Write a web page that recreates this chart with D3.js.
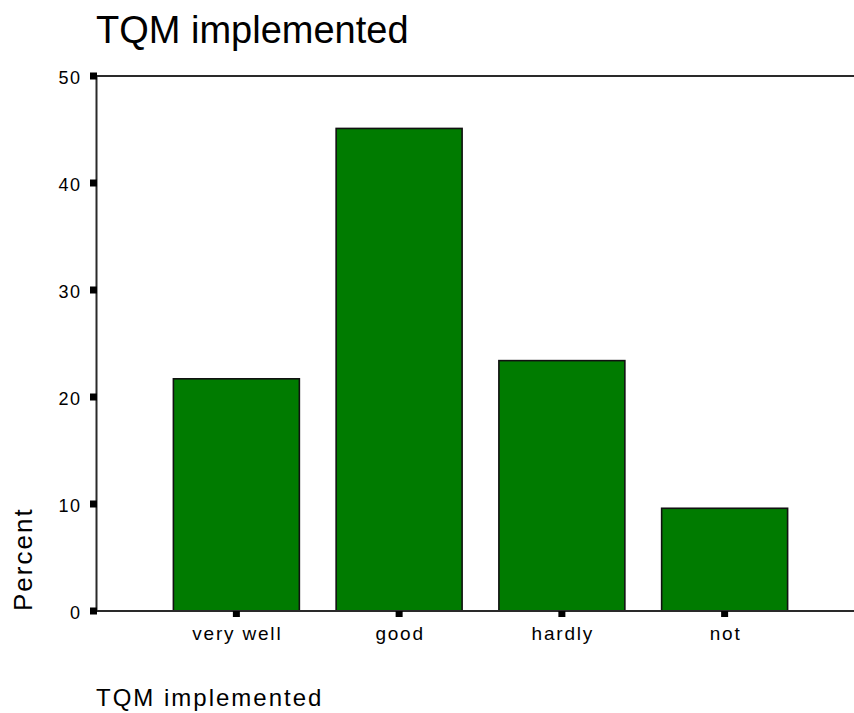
<!DOCTYPE html>
<html>
<head>
<meta charset="utf-8">
<script src="https://cdn.jsdelivr.net/npm/d3@7"></script>
<style>
  html, body { margin: 0; padding: 0; background: #fff; }
  svg { display: block; }
  text { font-family: "Liberation Sans", Arial, sans-serif; fill: #000; }
</style>
</head>
<body>
<script>
const categories = ["very well", "good", "hardly", "not"];
const percentValues = [21.7, 45.1, 23.4, 9.6];
const yTickValues = [0, 10, 20, 30, 40, 50];
const chartTitle = "TQM implemented";
const xAxisTitle = "TQM implemented";
const yAxisTitle = "Percent";

const W = 854, H = 713;
const svg = d3.select("body").append("svg").attr("width", W).attr("height", H);

const axisX = 96.5, plotRight = 854;
const x = d3.scaleBand().domain(categories).range([155, 806]).paddingInner(0.226).paddingOuter(0.113);
const y = d3.scaleLinear().domain([0, 50]).range([611, 76]);

// title
svg.append("text").attr("x", 96).attr("y", 43)
  .style("font-size", "38px").text(chartTitle);

// bars
svg.append("g").selectAll("rect").data(categories).join("rect")
  .attr("x", d => x(d))
  .attr("y", (d, i) => y(percentValues[i]))
  .attr("width", x.bandwidth())
  .attr("height", (d, i) => y(0) - y(percentValues[i]))
  .attr("fill", "#007b00")
  .attr("stroke", "#111")
  .attr("stroke-width", 1.6);

// frame lines
const lineColor = "#2a2a2a";
svg.append("line").attr("x1", axisX).attr("x2", plotRight).attr("y1", y(50)).attr("y2", y(50))
  .attr("stroke", lineColor).attr("stroke-width", 2);
svg.append("line").attr("x1", axisX).attr("x2", plotRight).attr("y1", y(0)).attr("y2", y(0))
  .attr("stroke", lineColor).attr("stroke-width", 2);
svg.append("line").attr("x1", axisX).attr("x2", axisX).attr("y1", y(50)).attr("y2", y(0) + 1)
  .attr("stroke", lineColor).attr("stroke-width", 2);

// y axis ticks + labels
const yt = svg.append("g");
yt.selectAll("rect").data(yTickValues).join("rect")
  .attr("x", axisX - 6.5).attr("y", d => y(d) - 3.5)
  .attr("width", 7).attr("height", 7).attr("fill", "#000");
yt.selectAll("text").data(yTickValues).join("text")
  .attr("x", 81.5).attr("y", d => y(d) + 7.5)
  .attr("text-anchor", "end")
  .style("font-size", "18px").style("letter-spacing", "1.5px")
  .text(d => d);

// x axis ticks + labels
const xt = svg.append("g");
xt.selectAll("rect").data(categories).join("rect")
  .attr("x", d => x(d) + x.bandwidth() / 2 - 3.5).attr("y", y(0))
  .attr("width", 7).attr("height", 6).attr("fill", "#000");
xt.selectAll("text").data(categories).join("text")
  .attr("x", d => x(d) + x.bandwidth() / 2 + 1).attr("y", 640)
  .attr("text-anchor", "middle")
  .style("font-size", "19px").style("letter-spacing", "1.8px")
  .text(d => d);

// axis titles
svg.append("text").attr("transform", "translate(32,611) rotate(-90)")
  .style("font-size", "26px").style("letter-spacing", "2px")
  .text(yAxisTitle);
svg.append("text").attr("x", 96).attr("y", 706)
  .style("font-size", "24px").style("letter-spacing", "2px")
  .text(xAxisTitle);
</script>
</body>
</html>
